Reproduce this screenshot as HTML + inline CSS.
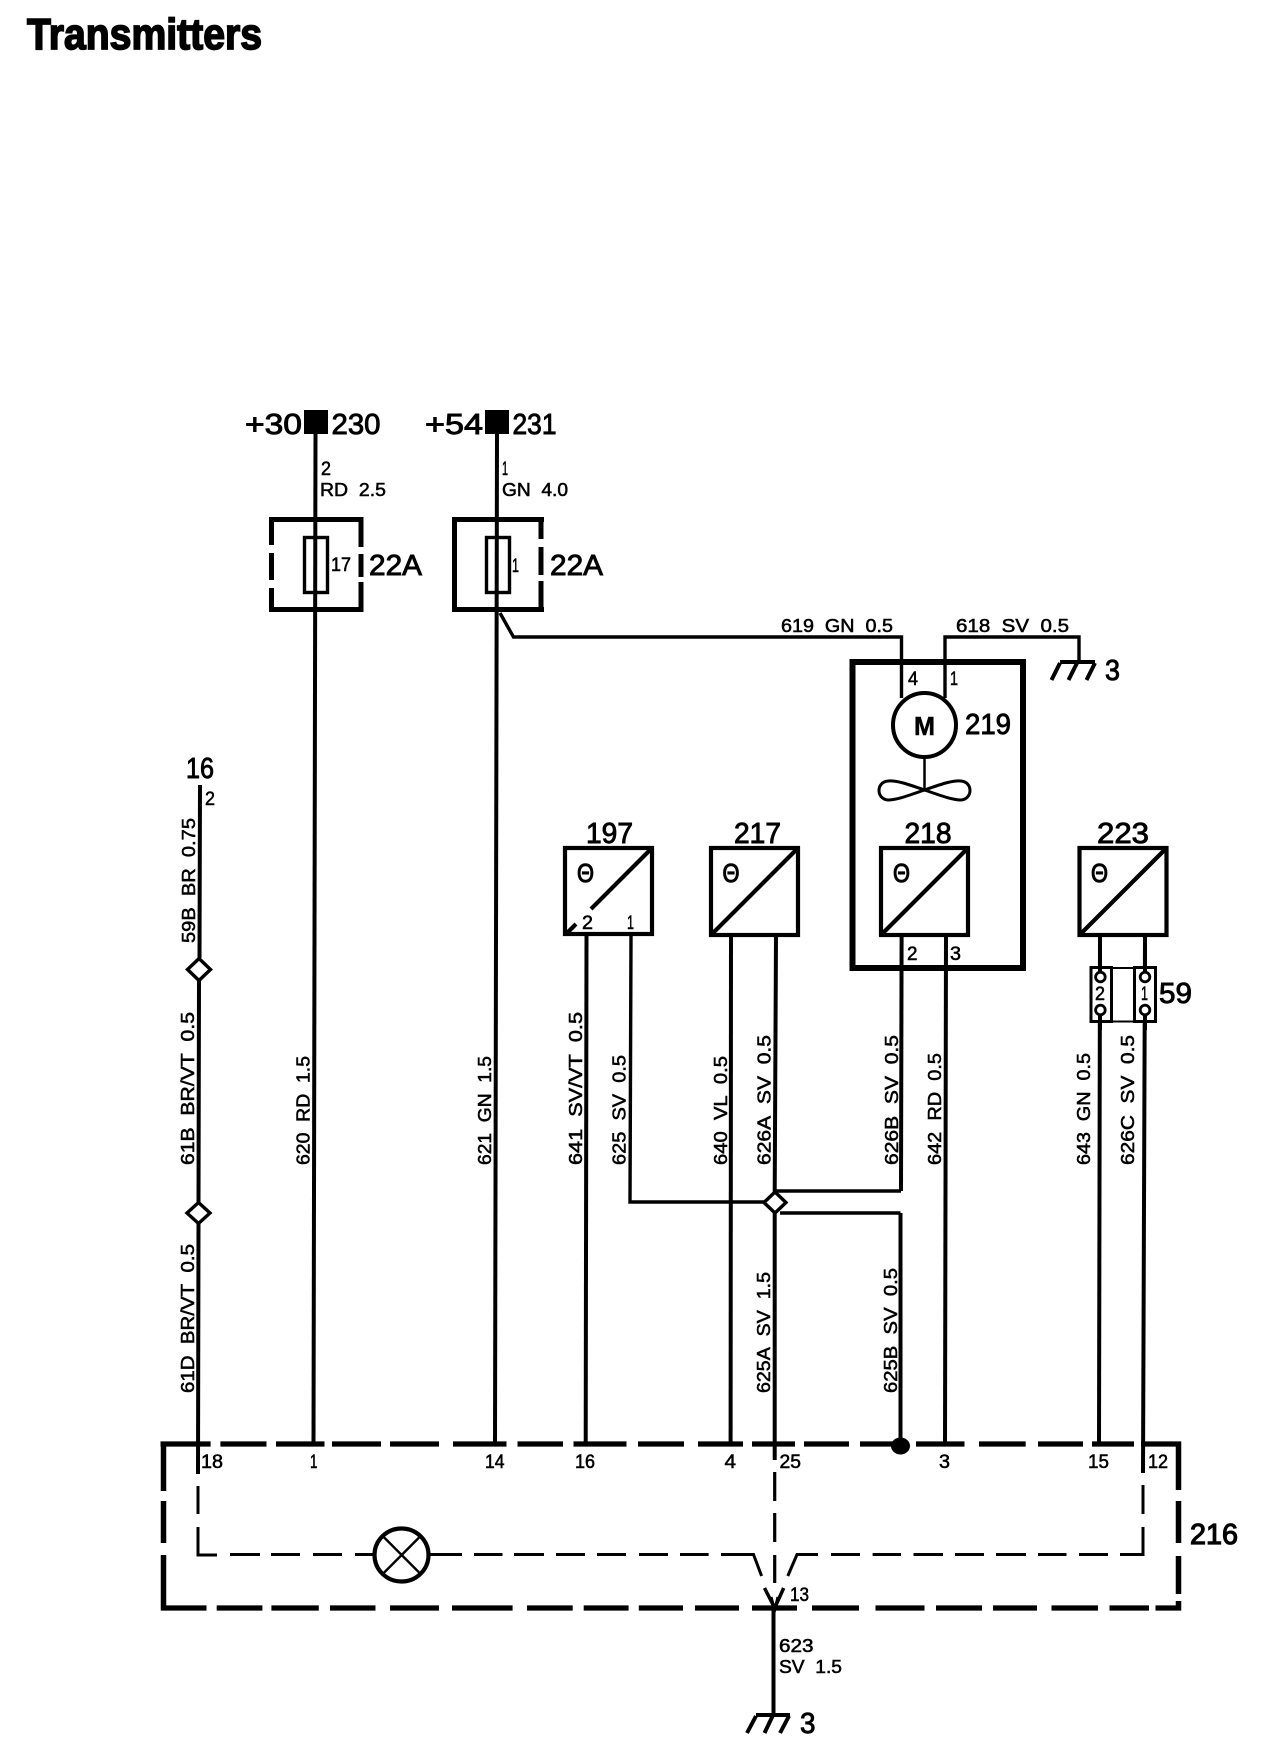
<!DOCTYPE html>
<html lang="en">
<head>
<meta charset="utf-8">
<title>Transmitters</title>
<style>
html,body{margin:0;padding:0;background:#fff;}
svg{display:block;}
text{font-family:"Liberation Sans",Arial,sans-serif;fill:#000;stroke:#000;stroke-width:.5;}
.s{font-size:18.5px;stroke-width:.55;}
.m{font-size:29px;stroke-width:.9;}
.n{font-size:19px;stroke-width:.55;}
.t{font-size:26px;stroke-width:1.1;}
</style>
</head>
<body>
<svg xmlns="http://www.w3.org/2000/svg" width="1280" height="1762" viewBox="0 0 1280 1762">
<rect width="1280" height="1762" fill="#fff"/>
<text x="27" y="49" font-size="44" font-weight="700" textLength="235" lengthAdjust="spacingAndGlyphs" style="stroke-width:1.7">Transmitters</text>

<g fill="none" stroke="#000" stroke-linecap="butt">
<!-- wires -->
<g stroke-width="4">
<path d="M315.5 434L313.5 1444"/>
<path d="M497 434L495 1444"/>
<path d="M200 785L199.5 958M199 981L198.5 1202M198.5 1224L198 1474"/>
<path d="M586.5 936L585.7 1444"/>
<path d="M731 936L730.6 1444"/>
<path d="M776 936L774.7 1192M774.7 1213L774.7 1460"/>
<path d="M901.6 936L901 1191"/>
<path d="M946 936L945 1444"/>
<path d="M1100 936L1099 1444"/>
<path d="M1145 936L1143 1473"/>
<path d="M900.5 1213V1440"/>
<path d="M773.5 1608V1715"/>
</g>
<g stroke-width="3.4">
<path d="M631 936L630 1202H764"/>
<path d="M775 1191H901"/>
<path d="M780 1213H900.5"/>
<path d="M500 613L513.5 637H901.5V698"/>
<path d="M945 698V637H1079V662"/>
</g>
<g stroke-width="4">
<path d="M1060 662H1095"/>
<path d="M1060 663L1051.5 680M1077 663L1068.5 680M1095 663L1086.5 680"/>
<path d="M756 1715H790M756 1716L747 1733M772.6 1716L764.5 1733M789 1716L780 1733"/>
</g>
<!-- fuse boxes -->
<g stroke-width="5">
<path d="M269 519.5H363.5"/>
<path d="M269 609.5H363.5"/>
<path d="M271.5 517V545M271.5 553V580M271.5 588V612"/>
<path d="M361 517V547M361 554V577M361 582V612"/>
<path d="M452 519.5H544M452 609.5H544M454.5 517V612"/>
<path d="M541 517V539M541 547V575M541 581V612"/>
</g>
<rect x="304.5" y="537.5" width="23" height="55" stroke-width="3.4"/>
<rect x="486.5" y="537.5" width="23" height="55" stroke-width="3.4"/>
<!-- big box -->
<rect x="852.5" y="662" width="170.5" height="306" stroke-width="6"/>
<ellipse cx="924.5" cy="725" rx="31.5" ry="32" stroke-width="4"/>
<path d="M924.5 758V789" stroke-width="2.5"/>
<path d="M924.5 790C910 785 897 780 888 781C876 782 876 799 888 800C897 800 910 795 924.5 790C939 785 952 780 961 781C973 782 973 799 961 800C952 800 939 795 924.5 790Z" stroke-width="3"/>
<!-- sensors -->
<g stroke-width="4.2">
<rect x="565" y="848" width="87" height="86"/>
<rect x="711" y="848" width="87" height="87"/>
<rect x="881" y="848" width="87" height="87"/>
<rect x="1079.5" y="848" width="87" height="87"/>
<path d="M652 848L591 909M567 933L576 924"/>
<path d="M798 848L711 935"/>
<path d="M968 848L881 935"/>
<path d="M1166.5 848L1079.5 935"/>
</g>
<!-- connector 59 -->
<rect x="1091" y="967.5" width="20.5" height="54" stroke-width="3" fill="#fff"/>
<rect x="1134.5" y="967.5" width="21" height="54" stroke-width="3" fill="#fff"/>
<path d="M1111 968H1135M1111 1021.5H1135" stroke-width="2"/>
<path d="M1100 936V972M1145 936V972M1100 1015V1030M1145 1015V1030" stroke-width="4"/>
<g stroke-width="2.8">
<circle cx="1100.4" cy="977" r="4.8"/>
<circle cx="1100.4" cy="1010" r="4.8"/>
<circle cx="1145" cy="977" r="4.8"/>
<circle cx="1145" cy="1010" r="4.8"/>
</g>
<!-- diamonds -->
<g stroke-width="3.4" fill="#fff">
<path d="M199 958.5L210.5 969.5L199 980.5L187.5 969.5Z"/>
<path d="M198.5 1202.5L210 1213L198.5 1223.5L187 1213Z"/>
<path d="M775 1192L786 1202.5L775 1213L764 1202.5Z"/>
</g>
<!-- outer dashed box 216 -->
<g stroke-width="5.2">
<path d="M160.5 1444H210.6M220.4 1444H266.5M276 1444H324.5M332 1444H381M390 1444H439M453 1444H506.5M517.5 1444H563M573.5 1444H626.5M638 1444H684M698 1444H743M752 1444H795M804 1444H849M860 1444H907M916 1444H964.5M979 1444H1025.7M1038 1444H1083M1092 1444H1134M1141 1444H1181"/>
<path d="M161 1608H206.5M216.7 1608H262.4M271.4 1608H318.8M330 1608H375.5M390 1608H439M452 1608H512.6M527 1608H572.7M583.7 1608H628.6M638.8 1608H683M695 1608H739M752 1608H797M812 1608H859M875.5 1608H924.5M936 1608H982M993 1608H1037M1051.5 1608H1098M1109.5 1608H1149M1155.5 1608H1181"/>
</g>
<g stroke-width="5.5">
<path d="M163.5 1441.5V1491M163.5 1501V1543M163.5 1555V1610.5"/>
<path d="M1178.5 1441.5V1490M1178.5 1501V1543M1178.5 1556V1594M1178.5 1601V1610.5"/>
</g>
<!-- inner dashed -->
<g stroke-width="3">
<path d="M198 1486V1514M198 1527V1555H217M230 1554.5H260M271 1554.5H300M313 1554.5H342M355 1554.5H373"/>
<path d="M430 1554.5H462M474 1554.5H502.5M514 1554.5H544M556 1554.5H585M597 1554.5H626M639 1554.5H668M680 1554.5H708.6M721 1554.5H753.5L761.6 1576"/>
<path d="M787.8 1576L797 1554.5H818M831 1554.5H860M872.6 1554.5H901M913.5 1554.5H943M955 1554.5H984M996 1554.5H1026M1038 1554.5H1066.5M1079 1554.5H1108M1120 1554.5H1143V1527M1143 1514V1485"/>
<path d="M774.7 1472V1501M774.7 1513V1542M774.7 1555V1583" stroke-width="3.2"/>
</g>
<path d="M764.5 1588L774.7 1608L783.7 1588" stroke-width="3.5"/>
<path d="M771 1597L774.7 1610L778 1597" stroke-width="3"/>
<!-- lamp -->
<ellipse cx="401.5" cy="1555" rx="27" ry="26.5" stroke-width="4.2"/>
<path d="M383.7 1537L419.6 1573M419.6 1537L383.7 1573" stroke-width="2.4"/>
</g>

<!-- filled -->
<rect x="304" y="410" width="24" height="24"/>
<rect x="485" y="410" width="24" height="24"/>
<ellipse cx="900.5" cy="1446" rx="9.5" ry="8.5"/>

<!-- large labels -->
<text class="m" x="245" y="434" textLength="57" lengthAdjust="spacingAndGlyphs">+30</text>
<text class="m" x="331.5" y="434" textLength="49" lengthAdjust="spacingAndGlyphs">230</text>
<text class="m" x="425" y="434" textLength="58" lengthAdjust="spacingAndGlyphs">+54</text>
<text class="m" x="512.5" y="434" textLength="44" lengthAdjust="spacingAndGlyphs">231</text>
<text class="m" x="369" y="575" textLength="53" lengthAdjust="spacingAndGlyphs">22A</text>
<text class="m" x="550" y="575" textLength="53" lengthAdjust="spacingAndGlyphs">22A</text>
<text class="m" x="186" y="778" textLength="28" lengthAdjust="spacingAndGlyphs">16</text>
<text class="m" x="586" y="843" textLength="47" lengthAdjust="spacingAndGlyphs">197</text>
<text class="m" x="734" y="843" textLength="47" lengthAdjust="spacingAndGlyphs">217</text>
<text class="m" x="904.5" y="843" textLength="47" lengthAdjust="spacingAndGlyphs">218</text>
<text class="m" x="1097" y="843" textLength="52" lengthAdjust="spacingAndGlyphs">223</text>
<text class="m" x="965" y="734" textLength="46" lengthAdjust="spacingAndGlyphs">219</text>
<text class="m" x="1159" y="1003" textLength="33" lengthAdjust="spacingAndGlyphs">59</text>
<text class="m" x="1190" y="1544" textLength="48" lengthAdjust="spacingAndGlyphs" style="stroke-width:1.2">216</text>
<text class="m" x="1105" y="680" textLength="15" lengthAdjust="spacingAndGlyphs">3</text>
<text class="m" x="800" y="1733" textLength="15.5" lengthAdjust="spacingAndGlyphs">3</text>
<text x="914" y="735" font-size="26" font-weight="700" textLength="21" lengthAdjust="spacingAndGlyphs">M</text>

<!-- theta -->
<text class="t" x="577" y="882" textLength="17" lengthAdjust="spacingAndGlyphs">&#920;</text>
<text class="t" x="722.5" y="882" textLength="17" lengthAdjust="spacingAndGlyphs">&#920;</text>
<text class="t" x="893" y="882" textLength="17" lengthAdjust="spacingAndGlyphs">&#920;</text>
<text class="t" x="1091" y="882" textLength="17" lengthAdjust="spacingAndGlyphs">&#920;</text>

<!-- small labels -->
<text class="n" x="321" y="475" textLength="10" lengthAdjust="spacingAndGlyphs">2</text>
<text class="s" x="320" y="496" textLength="66" lengthAdjust="spacingAndGlyphs">RD&#160;&#160;2.5</text>
<text class="n" x="502" y="475" textLength="6" lengthAdjust="spacingAndGlyphs">1</text>
<text class="s" x="502" y="496" textLength="66" lengthAdjust="spacingAndGlyphs">GN&#160;&#160;4.0</text>
<text class="n" x="331" y="571" textLength="20" lengthAdjust="spacingAndGlyphs">17</text>
<text class="n" x="512" y="572" textLength="7" lengthAdjust="spacingAndGlyphs">1</text>
<text class="s" x="781" y="632" textLength="112" lengthAdjust="spacingAndGlyphs">619&#160;&#160;GN&#160;&#160;0.5</text>
<text class="s" x="956" y="632" textLength="113" lengthAdjust="spacingAndGlyphs">618&#160;&#160;SV&#160;&#160;0.5</text>
<text class="n" x="908" y="685" textLength="10" lengthAdjust="spacingAndGlyphs">4</text>
<text class="n" x="950" y="685" textLength="8" lengthAdjust="spacingAndGlyphs">1</text>
<text class="n" x="907" y="960" textLength="10.5" lengthAdjust="spacingAndGlyphs">2</text>
<text class="n" x="950" y="960" textLength="11" lengthAdjust="spacingAndGlyphs">3</text>
<text class="n" x="582" y="929" textLength="11" lengthAdjust="spacingAndGlyphs">2</text>
<text class="n" x="627" y="929" textLength="7" lengthAdjust="spacingAndGlyphs">1</text>
<text class="n" x="205" y="805" textLength="10" lengthAdjust="spacingAndGlyphs">2</text>
<text class="n" x="1095" y="1000" textLength="10" lengthAdjust="spacingAndGlyphs">2</text>
<text class="n" x="1141" y="1000" textLength="7" lengthAdjust="spacingAndGlyphs">1</text>
<text class="n" x="201" y="1468" textLength="22" lengthAdjust="spacingAndGlyphs">18</text>
<text class="n" x="310" y="1468" textLength="7.5" lengthAdjust="spacingAndGlyphs">1</text>
<text class="n" x="485" y="1468" textLength="19.5" lengthAdjust="spacingAndGlyphs">14</text>
<text class="n" x="575" y="1468" textLength="20" lengthAdjust="spacingAndGlyphs">16</text>
<text class="n" x="724.5" y="1468" textLength="11.5" lengthAdjust="spacingAndGlyphs">4</text>
<text class="n" x="779.5" y="1468" textLength="21.5" lengthAdjust="spacingAndGlyphs">25</text>
<text class="n" x="939" y="1468" textLength="11" lengthAdjust="spacingAndGlyphs">3</text>
<text class="n" x="1088" y="1468" textLength="21" lengthAdjust="spacingAndGlyphs">15</text>
<text class="n" x="1148" y="1468" textLength="20" lengthAdjust="spacingAndGlyphs">12</text>
<text class="n" x="790" y="1601" textLength="19" lengthAdjust="spacingAndGlyphs">13</text>
<text class="s" x="779" y="1652" textLength="34.5" lengthAdjust="spacingAndGlyphs">623</text>
<text class="s" x="779" y="1673" textLength="63" lengthAdjust="spacingAndGlyphs">SV&#160;&#160;1.5</text>

<!-- rotated wire labels -->
<text class="s" transform="translate(195 943) rotate(-90)" textLength="125" lengthAdjust="spacingAndGlyphs">59B&#160;&#160;BR&#160;&#160;0.75</text>
<text class="s" transform="translate(194 1165) rotate(-90)" textLength="153" lengthAdjust="spacingAndGlyphs">61B&#160;&#160;BR/VT&#160;&#160;0.5</text>
<text class="s" transform="translate(194 1393) rotate(-90)" textLength="149" lengthAdjust="spacingAndGlyphs">61D&#160;&#160;BR/VT&#160;&#160;0.5</text>
<text class="s" transform="translate(309.4 1165) rotate(-90)" textLength="109" lengthAdjust="spacingAndGlyphs">620&#160;&#160;RD&#160;&#160;1.5</text>
<text class="s" transform="translate(491 1165) rotate(-90)" textLength="109" lengthAdjust="spacingAndGlyphs">621&#160;&#160;GN&#160;&#160;1.5</text>
<text class="s" transform="translate(582 1165) rotate(-90)" textLength="153" lengthAdjust="spacingAndGlyphs">641&#160;&#160;SV/VT&#160;&#160;0.5</text>
<text class="s" transform="translate(625.7 1165) rotate(-90)" textLength="110" lengthAdjust="spacingAndGlyphs">625&#160;&#160;SV&#160;&#160;0.5</text>
<text class="s" transform="translate(727 1165) rotate(-90)" textLength="109" lengthAdjust="spacingAndGlyphs">640&#160;&#160;VL&#160;&#160;0.5</text>
<text class="s" transform="translate(770.6 1165) rotate(-90)" textLength="130" lengthAdjust="spacingAndGlyphs">626A&#160;&#160;SV&#160;&#160;0.5</text>
<text class="s" transform="translate(898 1165) rotate(-90)" textLength="130" lengthAdjust="spacingAndGlyphs">626B&#160;&#160;SV&#160;&#160;0.5</text>
<text class="s" transform="translate(941 1165) rotate(-90)" textLength="112" lengthAdjust="spacingAndGlyphs">642&#160;&#160;RD&#160;&#160;0.5</text>
<text class="s" transform="translate(1090 1165) rotate(-90)" textLength="112" lengthAdjust="spacingAndGlyphs">643&#160;&#160;GN&#160;&#160;0.5</text>
<text class="s" transform="translate(1134 1165) rotate(-90)" textLength="130" lengthAdjust="spacingAndGlyphs">626C&#160;&#160;SV&#160;&#160;0.5</text>
<text class="s" transform="translate(770 1393) rotate(-90)" textLength="121" lengthAdjust="spacingAndGlyphs">625A&#160;&#160;SV&#160;&#160;1.5</text>
<text class="s" transform="translate(897 1393) rotate(-90)" textLength="125" lengthAdjust="spacingAndGlyphs">625B&#160;&#160;SV&#160;&#160;0.5</text>
</svg>
</body>
</html>
